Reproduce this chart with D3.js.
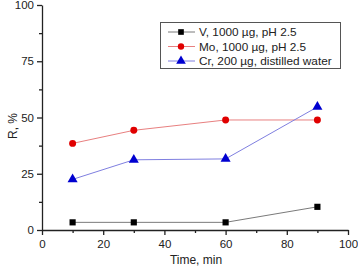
<!DOCTYPE html>
<html>
<head>
<meta charset="utf-8">
<script src="https://cdn.jsdelivr.net/npm/d3@7"></script>
<style>
  body { margin: 0; background: #fff; }
  text { font-family: "Liberation Sans", Arial, sans-serif; }
</style>
</head>
<body>
<script>
var width = 358, height = 269;
var margin = {left: 42, right: 10, top: 5, bottom: 39};

var times = [10, 30, 60, 90];
var vValues = [3.4, 3.4, 3.4, 10.3];
var moValues = [38.5, 44.3, 48.9, 48.9];
var crValues = [22.5, 31.2, 31.6, 54.7];
var xTicks = [0, 20, 40, 60, 80, 100];
var yTicks = [0, 25, 50, 75, 100];

var series = [
  {name: "V, 1000 µg, pH 2.5", values: vValues, line: "#7a7a7a", mark: "#000", shape: d3.symbolSquare},
  {name: "Mo, 1000 µg, pH 2.5", values: moValues, line: "#e88080", mark: "#e00000", shape: d3.symbolCircle},
  {name: "Cr, 200 µg, distilled water", values: crValues, line: "#7f7fe0", mark: "#0000d0", shape: d3.symbolTriangle}
];

var svg = d3.select("body").append("svg")
    .attr("width", width)
    .attr("height", height);

var x = d3.scaleLinear().domain([0, 100]).range([margin.left, 348]);
var y = d3.scaleLinear().domain([0, 100]).range([230, 5]);

// minor ticks
var gx = svg.append("g").attr("transform", "translate(0,230)");
gx.call(d3.axisBottom(x).tickValues(d3.range(10, 100, 20)).tickSize(3).tickFormat(""));
gx.call(g => g.select(".domain").remove());
var gx2 = svg.append("g").attr("transform", "translate(0,230)")
    .call(d3.axisBottom(x).tickValues(xTicks).tickSize(5).tickSizeOuter(0));
gx2.selectAll("text").attr("font-size", 11.5).attr("fill", "#222").attr("dy", "0.9em");

var gy = svg.append("g").attr("transform", "translate(" + margin.left + ",0)");
gy.call(d3.axisLeft(y).tickValues(d3.range(12.5, 100, 25)).tickSize(3).tickFormat(""));
gy.call(g => g.select(".domain").remove());
var gy2 = svg.append("g").attr("transform", "translate(" + margin.left + ",0)")
    .call(d3.axisLeft(y).tickValues(yTicks).tickSize(5).tickSizeOuter(0));
gy2.selectAll("text").attr("font-size", 11.5).attr("fill", "#222");
svg.selectAll(".domain, .tick line").attr("stroke", "#222").attr("stroke-width", 1.3);

svg.append("text").attr("x", 196).attr("y", 264).attr("text-anchor", "middle")
   .attr("font-size", 12).attr("fill", "#222").text("Time, min");
svg.append("text").attr("transform", "translate(17,126) rotate(-90)").attr("text-anchor", "middle")
   .attr("font-size", 12).attr("fill", "#222").text("R, %");

var line = d3.line().x((d, i) => x(times[i])).y(d => y(d));

series.forEach(function(s) {
  svg.append("path").datum(s.values)
     .attr("fill", "none").attr("stroke", s.line).attr("stroke-width", 1)
     .attr("d", line);
  svg.selectAll(null).data(s.values).join("path")
     .attr("transform", (d, i) => "translate(" + x(times[i]) + "," + y(d) + ")")
     .attr("d", d3.symbol().type(s.shape).size(s.shape === d3.symbolTriangle ? 44 : 38))
     .attr("fill", s.mark);
});

// legend
var lg = svg.append("g");
lg.append("rect").attr("x", 160.5).attr("y", 22.5).attr("width", 180).attr("height", 46)
  .attr("fill", "#fff").attr("stroke", "#555");
series.forEach(function(s, i) {
  var ly = 32 + i * 14.5;
  lg.append("line").attr("x1", 168).attr("x2", 195).attr("y1", ly).attr("y2", ly).attr("stroke", s.line);
  lg.append("path").attr("transform", "translate(181," + ly + ")")
    .attr("d", d3.symbol().type(s.shape).size(s.shape === d3.symbolTriangle ? 40 : 32))
    .attr("fill", s.mark);
  lg.append("text").attr("x", 199).attr("y", ly + 4).attr("font-size", 11.8).attr("fill", "#222").text(s.name);
});
</script>
</body>
</html>
